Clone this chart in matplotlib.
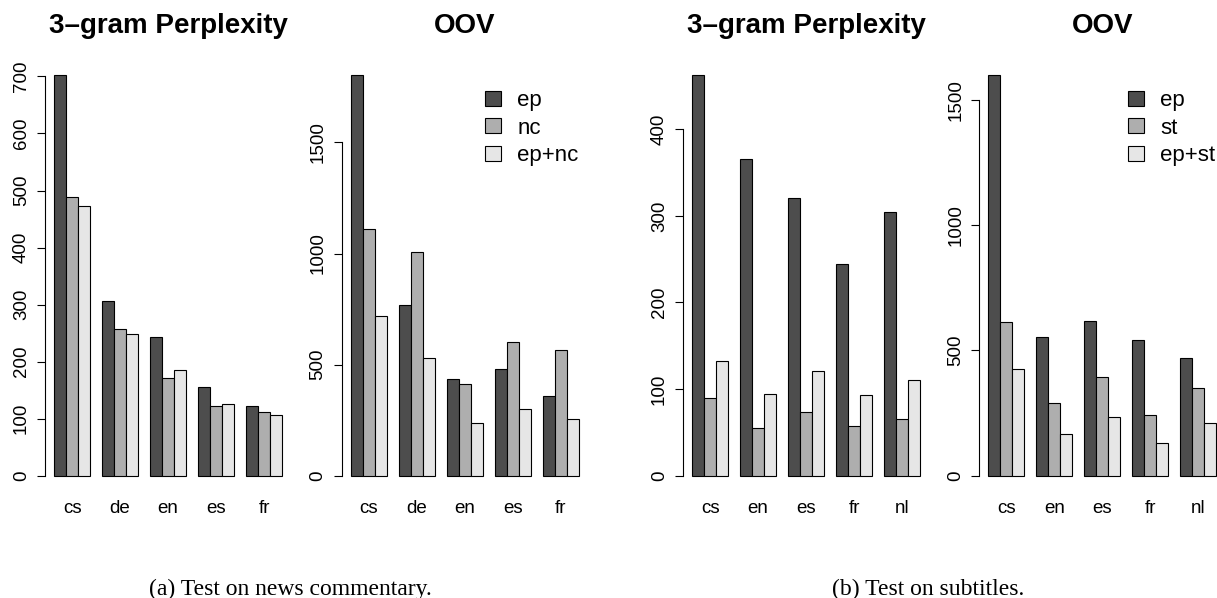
import numpy as np
import matplotlib
matplotlib.use("Agg")
import matplotlib.pyplot as plt
from matplotlib.transforms import Bbox

plt.rcParams['font.family'] = ['Liberation Sans', 'DejaVu Sans']

# ---- data ----
langs_a = ['cs', 'de', 'en', 'es', 'fr']
ppl_a = {
    'ep':    [703, 306, 243, 155, 122],
    'nc':    [488, 258, 172, 122, 112],
    'ep+nc': [472, 248, 185, 126, 106],
}
oov_a = {
    'ep':    [1805, 768, 434, 479, 360],
    'nc':    [1111, 1005, 411, 603, 566],
    'ep+nc': [720, 531, 239, 299, 254],
}

langs_b = ['cs', 'en', 'es', 'fr', 'nl']
ppl_b = {
    'ep':    [463, 366, 321, 244, 304],
    'st':    [90, 55, 73, 57, 65],
    'ep+st': [132, 94, 121, 93, 111],
}
oov_b = {
    'ep':    [1601, 555, 616, 542, 471],
    'st':    [614, 289, 393, 241, 349],
    'ep+st': [425, 166, 233, 129, 212],
}

ticks_ppl_a = [0, 100, 200, 300, 400, 500, 600, 700]
ticks_oov_a = [0, 500, 1000, 1500]
ticks_ppl_b = [0, 100, 200, 300, 400]
ticks_oov_b = [0, 500, 1000, 1500]

greys = ['#4D4D4D', '#AEAEAE', '#E6E6E6']

W, H = 1217, 598
fig = plt.figure(figsize=(W / 100, H / 100), dpi=100)


def panel(left_px, title, langs, series, ticks, legend_px=None):
    top_px, bot_px = 58.7, 491.7
    width_px = 246.2
    ax = fig.add_axes([left_px / W, 1 - bot_px / H, width_px / W, (bot_px - top_px) / H])
    names = list(series.keys())
    ymax = max(max(v) for v in series.values())
    conts = []
    for s, name in enumerate(names):
        x = 1 + 4 * np.arange(len(langs)) + s
        c = ax.bar(x, series[name], width=1, align='edge', color=greys[s],
                   edgecolor='black', linewidth=0.8, label=name)
        conts.append(c)
    # R style axis ranges (4% extension)
    ax.set_xlim(1 - 0.04 * 19, 20 + 0.04 * 19)
    ax.set_ylim(-0.04 * ymax, ymax * 1.04)
    for sp in ['top', 'right', 'bottom']:
        ax.spines[sp].set_visible(False)
    ax.spines['left'].set_bounds(ticks[0], ticks[-1])
    ax.spines['left'].set_linewidth(0.8)
    ax.set_yticks(ticks)
    ax.set_yticklabels([str(t) for t in ticks], rotation=90, va='center')
    ax.tick_params(axis='y', length=5.8, width=0.8, pad=5, labelsize=13.5)
    ax.set_xticks(2.5 + 4 * np.arange(len(langs)))
    ax.set_xticklabels(langs)
    ax.tick_params(axis='x', length=0, pad=6, labelsize=13.5)
    cx = (left_px + width_px / 2) / W
    fig.text(cx, 1 - 33 / H, title, ha='center', va='baseline',
             fontsize=20, fontweight='bold')
    if legend_px is not None:
        ax.legend(frameon=False, loc='upper left', fontsize=16,
                  bbox_to_anchor=(legend_px[0] / W, 1 - legend_px[1] / H),
                  bbox_transform=fig.transFigure, borderpad=0, borderaxespad=0,
                  handlelength=0.7, handleheight=0.65, handletextpad=0.75,
                  labelspacing=0.3)
    return ax


panel(45, '3\u2013gram Perplexity', langs_a, ppl_a, ticks_ppl_a)
panel(341.7, 'OOV', langs_a, oov_a, ticks_oov_a, legend_px=(485, 90))
panel(683, '3\u2013gram Perplexity', langs_b, ppl_b, ticks_ppl_b)
panel(979.3, 'OOV', langs_b, oov_b, ticks_oov_b, legend_px=(1128, 90))

fig.text(290.5 / W, 1 - 595 / H, '(a) Test on news commentary.', ha='center',
         va='baseline', fontsize=17, family=['Liberation Serif', 'DejaVu Serif'])
fig.text(928 / W, 1 - 595 / H, '(b) Test on subtitles.', ha='center',
         va='baseline', fontsize=17, family=['Liberation Serif', 'DejaVu Serif'])

fig.savefig('out.png', dpi=100)
